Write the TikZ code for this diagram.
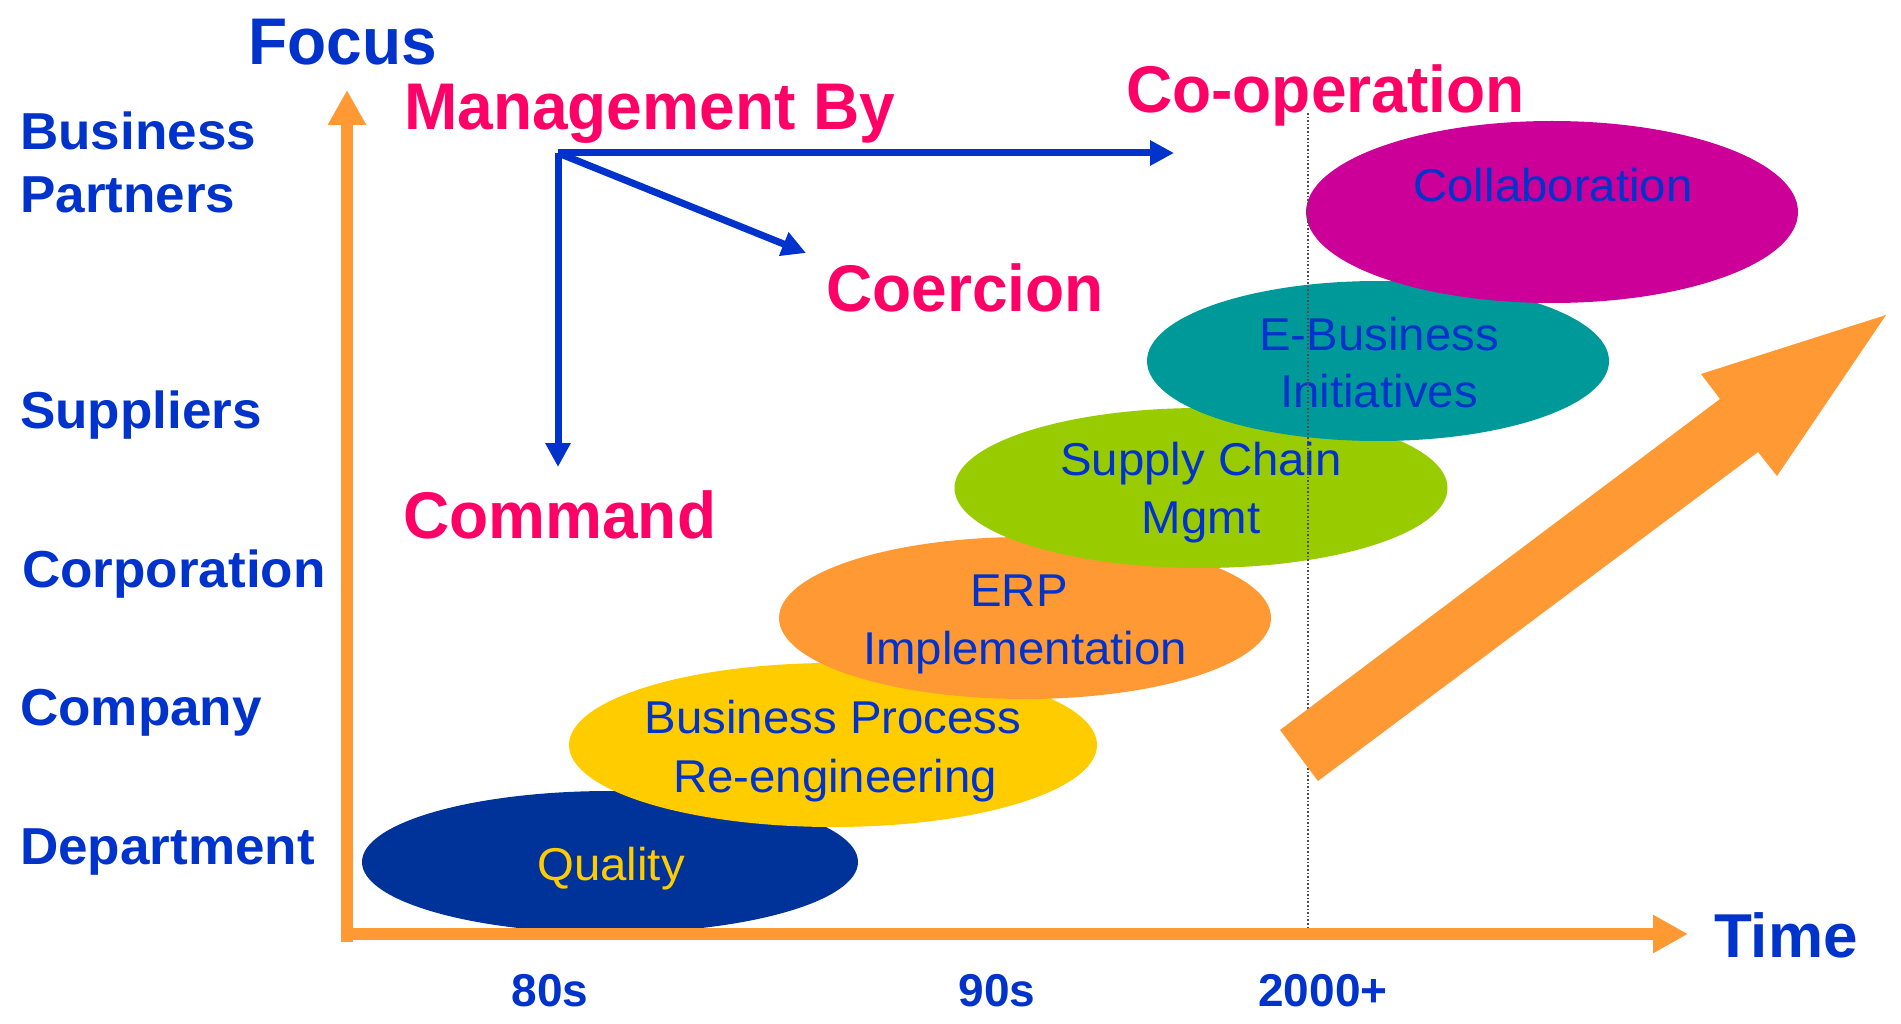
\documentclass[tikz,border=0pt]{standalone}
\usepackage{fontspec}
\setmainfont{Liberation Sans}
\usetikzlibrary{arrows.meta,shapes.geometric}
\definecolor{tblue}{HTML}{0033CC}
\definecolor{tred}{HTML}{FF0066}
\definecolor{torange}{HTML}{FF9933}
\definecolor{cnavy}{HTML}{003399}
\definecolor{cyellow}{HTML}{FFCC00}
\definecolor{cgreen}{HTML}{99CC00}
\definecolor{cteal}{HTML}{009999}
\definecolor{cmag}{HTML}{CC0099}
\newcommand{\narrowtxt}[1]{\scalebox{0.97}[1]{#1}}
\newcommand{\widetxt}[1]{\scalebox{1.02}[1]{#1}}
\newcommand{\blobtxt}[1]{\scalebox{1.03}[1]{#1}}
\begin{document}
\begin{tikzpicture}[x=1pt,y=-1pt,
  levellabel/.style={font=\fontsize{52}{60}\selectfont\bfseries, text=tblue, inner sep=0, anchor=base west},
  modelabel/.style={font=\fontsize{66}{78}\selectfont\bfseries, text=tred, inner sep=0, anchor=base west},
  ticklabel/.style={font=\fontsize{46}{54}\selectfont\bfseries, text=tblue, inner sep=0, anchor=base},
  bigtitle/.style={font=\fontsize{66}{78}\selectfont\bfseries, text=tblue, inner sep=0, anchor=base west},
  blob/.style={shape=ellipse, draw=none, inner sep=0},
  blobtext/.style={font=\fontsize{46}{54}\selectfont, text=tblue, inner sep=0, anchor=base},
  mgmtarrow/.style={draw=tblue, line width=7pt, -{Triangle[length=24pt,width=24pt]}},
  axisarrow/.style={draw=torange, line width=12pt, -{Triangle[length=35pt,width=36pt]}},
]
\useasboundingbox (0,0) rectangle (1901,1024);
\fill[white] (0,0) rectangle (1901,1024);

% ellipses, back to front
\node[blob, fill=cnavy, minimum width=496pt, minimum height=142pt] (quality) at (610,862) {};
\node[blobtext, text=cyellow] (qualityT) at (611,880) {\blobtxt{Quality}};
\node[blob, fill=cyellow, minimum width=528pt, minimum height=164pt] (bpr) at (833,745) {};
\node[blobtext] (bprT1) at (833,733) {\blobtxt{Business Process}};
\node[blobtext] (bprT2) at (835,792) {\blobtxt{Re-engineering}};
\node[blob, fill=torange, minimum width=492pt, minimum height=162pt] (erp) at (1025,618) {};
\node[blobtext] (erpT1) at (1019,606) {\blobtxt{ERP}};
\node[blobtext] (erpT2) at (1025,664) {\blobtxt{Implementation}};
\node[blob, fill=cgreen, minimum width=493pt, minimum height=160pt] (scm) at (1201,488) {};
\node[blobtext] (scmT1) at (1201,475) {\blobtxt{Supply Chain}};
\node[blobtext] (scmT2) at (1201,533) {\blobtxt{Mgmt}};
\node[blob, fill=cteal, minimum width=462pt, minimum height=160pt] (ebiz) at (1378,361) {};
\node[blobtext] (ebizT1) at (1379,350) {\blobtxt{E-Business}};
\node[blobtext] (ebizT2) at (1379,407) {\blobtxt{Initiatives}};
\node[blob, fill=cmag, minimum width=492pt, minimum height=182pt] (collab) at (1552,212) {};
\node[blobtext] (collabT) at (1553,202) {\blobtxt{Collaboration}};

% dotted 2000+ marker
\coordinate (dotTop) at (1308,113);
\coordinate (dotBot) at (1308,940);
\draw[line width=1.6pt, draw=black!70, dotted] (dotTop) -- (dotBot);

% big trend arrow
\fill[torange] (1280,730) -- (1720,399) -- (1701,374) -- (1886,315) -- (1777,476) -- (1758,452) -- (1318,781) -- cycle;

% axes
\coordinate (yBot) at (347,942);
\coordinate (yTop) at (347,90);
\coordinate (xLeft) at (341,934);
\coordinate (xRight) at (1688,934);
\draw[axisarrow] (yBot) -- (yTop);
\draw[axisarrow] (xLeft) -- (xRight);

% axis titles
\node[bigtitle] (focus) at (248,65) {\narrowtxt{Focus}};
\node[font=\fontsize{62}{72}\selectfont\bfseries, text=tblue, inner sep=0, anchor=base west] (time) at (1714,957) {Time};

% level labels
\node[levellabel] (bp1) at (20,150) {\widetxt{Business}};
\node[levellabel] (bp2) at (20,213) {\widetxt{Partners}};
\node[levellabel] (sup) at (20,428) {\widetxt{Suppliers}};
\node[levellabel] (corp) at (22,587) {\widetxt{Corporation}};
\node[levellabel] (comp) at (20,725) {\widetxt{Company}};
\node[levellabel] (dept) at (20,864) {\widetxt{Department}};

% tick labels
\node[ticklabel] (t80) at (550,1006) {80s};
\node[ticklabel] (t90) at (997,1006) {90s};
\node[ticklabel] (t2000) at (1323,1006) {2000+};

% management modes
\node[modelabel] (mgmt) at (404,130) {\narrowtxt{Management By}};
\node[modelabel] (coop) at (1126,113) {\narrowtxt{Co-operation}};
\node[modelabel] (coer) at (826,312) {\narrowtxt{Coercion}};
\node[modelabel] (cmd) at (403,538) {\narrowtxt{Command}};

\coordinate (mo) at (558,153);
\coordinate (moH) at (1174,153);
\coordinate (moD) at (806,253);
\coordinate (moV) at (558,467);
\draw[mgmtarrow] (mo) -- (moH);
\draw[mgmtarrow] (mo) -- (moD);
\draw[mgmtarrow] (mo) -- (moV);
\end{tikzpicture}
\end{document}
